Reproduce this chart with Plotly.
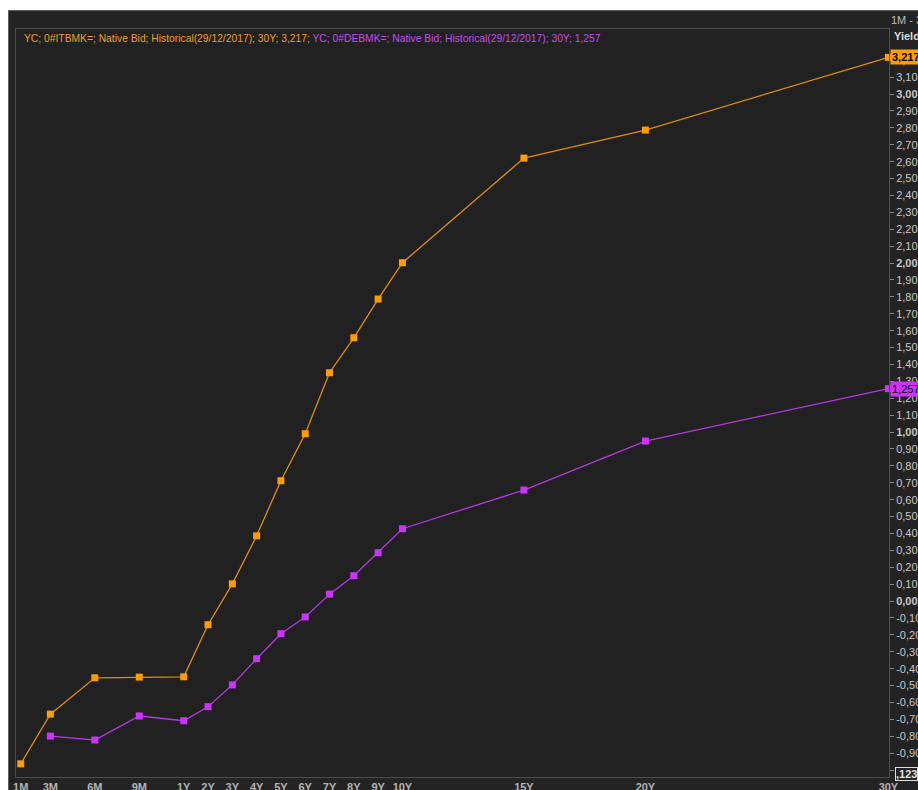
import plotly.graph_objects as go

# ---------------- data ----------------
tenors = ["1M", "3M", "6M", "9M", "1Y", "2Y", "3Y", "4Y", "5Y", "6Y", "7Y", "8Y", "9Y", "10Y", "15Y", "20Y", "30Y"]
it_yield = [-0.963, -0.669, -0.454, -0.450, -0.448, -0.140, 0.102, 0.386, 0.712, 0.990,
            1.351, 1.558, 1.787, 2.002, 2.621, 2.787, 3.217]
de_tenors = ["3M", "6M", "9M", "1Y", "2Y", "3Y", "4Y", "5Y", "6Y", "7Y", "8Y", "9Y", "10Y", "15Y", "20Y", "30Y"]
de_yield = [-0.799, -0.822, -0.680, -0.708, -0.625, -0.496, -0.341, -0.193, -0.094,
            0.041, 0.150, 0.286, 0.428, 0.657, 0.947, 1.257]
it_label = "YC; 0#ITBMK=; Native Bid; Historical(29/12/2017); 30Y; 3,217; "
de_label = "YC; 0#DEBMK=; Native Bid; Historical(29/12/2017); 30Y; 1,257"

# ---------------- axis scale (piecewise: months, then years compressed) ----------------
YEAR_STEP = 1.64  # axis units per year beyond 1Y (month = 1 unit)


def tenor_pos(t):
    if t.endswith("M"):
        return float(t[:-1])
    y = float(t[:-1])
    return 12.0 + (y - 1.0) * YEAR_STEP


# plot area in pixels
W, H = 918, 790
L, R, T, B = 16, 889, 29, 777


def px_x(p):
    return (p - L) / (R - L)


def px_y(p):
    return (B - p) / (B - T)


ORANGE = "#ff9c00"
ORANGE_LINE = "#e08c12"
PURPLE = "#cc33ff"
PURPLE_LINE = "#b23ae0"

fig = go.Figure()
fig.add_trace(go.Scatter(
    x=[tenor_pos(t) for t in tenors], y=it_yield, mode="lines+markers",
    line=dict(color=ORANGE_LINE, width=1.3),
    marker=dict(symbol="square", size=7, color=ORANGE, line=dict(width=0)),
    cliponaxis=False, showlegend=False, hoverinfo="skip"))
fig.add_trace(go.Scatter(
    x=[tenor_pos(t) for t in de_tenors], y=de_yield, mode="lines+markers",
    line=dict(color=PURPLE_LINE, width=1.3),
    marker=dict(symbol="square", size=7, color=PURPLE, line=dict(width=0)),
    cliponaxis=False, showlegend=False, hoverinfo="skip"))

# y ticks
ytv = [round(-1.0 + 0.1 * i, 1) for i in range(43)]


def fmt(v):
    if v < -0.95:
        return ""
    s = f"{v:.2f}".replace(".", ",")
    if s == "-0,00":
        s = "0,00"
    if abs(v - round(v)) < 1e-9:
        return f"<b>{s}</b>"
    return s


ytt = [fmt(v) for v in ytv]

x_lo = 0.68
x_hi = 59.6
y_lo = -1.041
y_hi = 3.385

fig.update_layout(
    width=W, height=H, autosize=False,
    margin=dict(l=L, r=W - R, t=T, b=H - B, pad=0, autoexpand=False),
    paper_bgcolor="#232323", plot_bgcolor="#212121",
    font=dict(family="Liberation Sans, Arial, sans-serif", size=11, color="#c8c8c8"),
    xaxis=dict(range=[x_lo, x_hi], tickvals=[tenor_pos(t) for t in tenors],
               ticktext=[f"<b>{t}</b>" for t in tenors], ticks="", showgrid=False,
               zeroline=False, showline=True, linecolor="#4e4e4e", linewidth=1, mirror=True,
               tickfont=dict(size=11, color="#b4b4b4"), fixedrange=True, automargin=False),
    yaxis=dict(range=[y_lo, y_hi], side="right", tickvals=ytv, ticktext=ytt,
               ticks="outside", ticklen=4, tickcolor="#8a8a8a", showgrid=False,
               zeroline=False, showline=True, linecolor="#4e4e4e", linewidth=1, mirror=True,
               tickfont=dict(size=11, color="#c8c8c8"), fixedrange=True, automargin=False),
    shapes=[
        dict(type="rect", xref="paper", yref="paper", x0=px_x(0), x1=px_x(W), y0=px_y(0), y1=px_y(10),
             fillcolor="white", line=dict(width=0), layer="below"),
        dict(type="rect", xref="paper", yref="paper", x0=px_x(0), x1=px_x(8), y0=px_y(0), y1=px_y(H),
             fillcolor="white", line=dict(width=0), layer="below"),
        dict(type="line", xref="paper", yref="paper", x0=px_x(8), x1=px_x(W), y0=px_y(10.5), y1=px_y(10.5),
             line=dict(color="#5e5e5e", width=1)),
        dict(type="line", xref="paper", yref="paper", x0=px_x(8.5), x1=px_x(8.5), y0=px_y(10), y1=px_y(H),
             line=dict(color="#5e5e5e", width=1)),
    ],
    annotations=[
        dict(xref="paper", yref="paper", x=px_x(22), y=px_y(38), xanchor="left", yanchor="middle",
             showarrow=False, font=dict(size=10.3),
             text=f"<span style='color:#ec9f2a'>{it_label}</span><span style='color:#c24ee8'>{de_label}</span>"),
        dict(xref="paper", yref="paper", x=px_x(889), y=px_y(20), xanchor="left", yanchor="middle",
             showarrow=False, text="1M - 3", font=dict(size=11, color="#bcbcbc")),
        dict(xref="paper", yref="paper", x=px_x(892), y=px_y(36), xanchor="left", yanchor="middle",
             showarrow=False, text="<b>Yield</b>", font=dict(size=11, color="#dcdcdc")),
        dict(xref="paper", yref="y", x=px_x(890), y=it_yield[-1], xanchor="left", yanchor="middle",
             showarrow=False, text="<b>3,217</b>", bgcolor=ORANGE, borderpad=1,
             font=dict(size=11, color="#000000")),
        dict(xref="paper", yref="y", x=px_x(890), y=de_yield[-1], xanchor="left", yanchor="middle",
             showarrow=False, text="1,257", bgcolor=PURPLE, borderpad=1,
             font=dict(size=11, color="#000000")),
        dict(xref="paper", yref="paper", x=px_x(895), y=px_y(774), xanchor="left", yanchor="middle",
             showarrow=False, text="<b>,123</b>", bgcolor="#232323", bordercolor="#e0e0e0",
             borderwidth=1, borderpad=0, font=dict(size=11, color="#e0e0e0")),
    ],
)

fig.write_html("out.html", config={"displayModeBar": False},
               post_script="document.body.style.margin='0';document.body.style.overflow='hidden';")
